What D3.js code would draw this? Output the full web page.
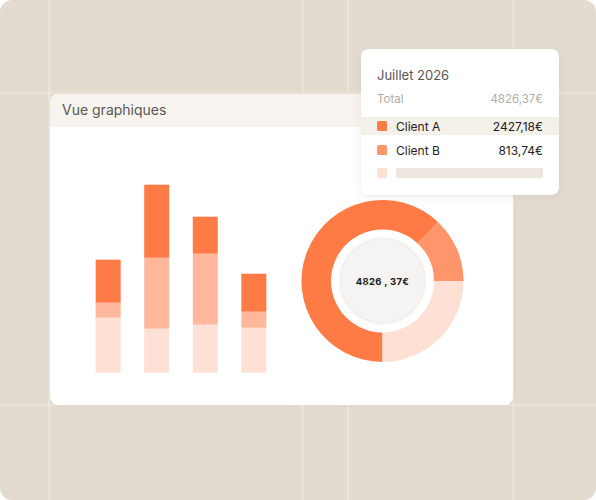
<!DOCTYPE html>
<html>
<head>
<meta charset="utf-8">
<script src="https://cdn.jsdelivr.net/npm/d3@7"></script>
<style>
  body { margin: 0; background: #fff; }
  svg { display: block; font-family: Inter, "Noto Sans", sans-serif; }
</style>
</head>
<body>
<div id="chart"></div>
<script>
// bar chart: 4 stacked bars, three layers each (bottom -> top)
var barIds = ["b1", "b2", "b3", "b4"];
var layerLight = [55, 44, 48, 45];
var layerMid = [15, 71, 71, 16];
var layerDark = [43, 73, 37, 38];

// donut shares (dark, medium, light), drawn clockwise from 6 o'clock
var donutShares = [62, 13, 25];

// tooltip texts
var tipTitle = "Juillet 2026";
var tipTotal = "4826,37€";
var tipClients = ["Client A", "Client B"];
var tipAmounts = ["2427,18€", "813,74€"];
var centerLabel = "4826 , 37€";

var width = 596, height = 500;
var colors = { dark: "#ff7b45", mid: "#ffb89b", light: "#ffe0d5", donutMid: "#ff966b" };

var svg = d3.select("#chart").append("svg")
  .attr("width", width)
  .attr("height", height);

var defs = svg.append("defs");
var shadow = defs.append("filter").attr("id", "shadow")
  .attr("x", "-20%").attr("y", "-20%").attr("width", "140%").attr("height", "150%");
shadow.append("feDropShadow")
  .attr("dx", 0).attr("dy", 2).attr("stdDeviation", 4)
  .attr("flood-color", "#8a7a66").attr("flood-opacity", 0.14);

var soft = defs.append("filter").attr("id", "soft")
  .attr("x", "-20%").attr("y", "-20%").attr("width", "140%").attr("height", "140%");
soft.append("feDropShadow")
  .attr("dx", 0).attr("dy", 0).attr("stdDeviation", 1.5)
  .attr("flood-color", "#000").attr("flood-opacity", 0.08);

var blur = defs.append("filter").attr("id", "blur");
blur.append("feGaussianBlur").attr("stdDeviation", 1.2);

// background
svg.append("rect")
  .attr("width", width).attr("height", height)
  .attr("rx", 12)
  .attr("fill", "#e3dbd0");

// background grid
[49, 303, 348, 513].forEach(function(x){
  svg.append("line").attr("x1", x).attr("x2", x).attr("y1", 0).attr("y2", height)
    .attr("stroke", "#f2ede6").attr("stroke-width", 1);
});
[93, 405].forEach(function(y){
  svg.append("line").attr("x1", 0).attr("x2", width).attr("y1", y).attr("y2", y)
    .attr("stroke", "#f2ede6").attr("stroke-width", 1);
});

// main panel
var panel = { x: 50, y: 94, w: 463, h: 311 };
svg.append("rect")
  .attr("x", panel.x).attr("y", panel.y)
  .attr("width", panel.w).attr("height", panel.h)
  .attr("rx", 8)
  .attr("fill", "#fff")
  .attr("filter", "url(#soft)");

svg.append("path")
  .attr("d", "M" + panel.x + "," + (panel.y + 33) +
    "V" + (panel.y + 8) +
    "Q" + panel.x + "," + panel.y + " " + (panel.x + 8) + "," + panel.y +
    "H" + (panel.x + panel.w - 8) +
    "Q" + (panel.x + panel.w) + "," + panel.y + " " + (panel.x + panel.w) + "," + (panel.y + 8) +
    "V" + (panel.y + 33) + "Z")
  .attr("fill", "#f7f4ef");

svg.append("text")
  .attr("x", 62).attr("y", 115)
  .attr("font-size", 14)
  .attr("fill", "#5a5652")
  .text("Vue graphiques");

// stacked bars
var barData = barIds.map(function(id, i){
  return { id: id, light: layerLight[i], mid: layerMid[i], dark: layerDark[i] };
});
var keys = ["light", "mid", "dark"];
var stack = d3.stack().keys(keys)(barData);

var x = d3.scaleBand()
  .domain(barIds)
  .range([84, 278])
  .paddingInner(0.485)
  .paddingOuter(0.24);

var y = d3.scaleLinear()
  .domain([0, 200])
  .range([372.7, 172.7]);

svg.append("g").selectAll("g")
  .data(stack)
  .enter().append("g")
  .attr("fill", function(d){ return colors[d.key]; })
  .selectAll("rect")
  .data(function(d){ return d; })
  .enter().append("rect")
  .attr("x", function(d){ return x(d.data.id); })
  .attr("width", x.bandwidth())
  .attr("y", function(d){ return y(d[1]); })
  .attr("height", function(d){ return y(d[0]) - y(d[1]); });

// donut
var cx = 382.5, cy = 281;
var pie = d3.pie().sort(null)
  .startAngle(Math.PI)
  .endAngle(3 * Math.PI);
var arc = d3.arc().innerRadius(51.5).outerRadius(81);
var donutColors = [colors.dark, colors.donutMid, colors.light];

var donut = svg.append("g").attr("transform", "translate(" + cx + "," + cy + ")");
donut.selectAll("path")
  .data(pie(donutShares))
  .enter().append("path")
  .attr("d", arc)
  .attr("fill", function(d, i){ return donutColors[i]; });

donut.append("circle")
  .attr("r", 43)
  .attr("fill", "#ecebe8")
  .attr("filter", "url(#blur)");
donut.append("circle")
  .attr("r", 41.5)
  .attr("fill", "#f5f4f2");

donut.append("text")
  .attr("y", 3.5)
  .attr("text-anchor", "middle")
  .attr("font-size", 9.5)
  .attr("font-weight", 700)
  .attr("letter-spacing", 0.3)
  .attr("fill", "#1a1a1a")
  .text(centerLabel);

// tooltip card
var tip = svg.append("g").attr("transform", "translate(361,49)");
tip.append("rect")
  .attr("width", 198).attr("height", 146)
  .attr("rx", 8)
  .attr("fill", "#fff")
  .attr("filter", "url(#shadow)");

tip.append("text")
  .attr("x", 16).attr("y", 31)
  .attr("font-size", 13)
  .attr("fill", "#5a5652")
  .text(tipTitle);

tip.append("text")
  .attr("x", 16).attr("y", 54)
  .attr("font-size", 11.5)
  .attr("fill", "#b0aca7")
  .text("Total");

tip.append("text")
  .attr("x", 182).attr("y", 54)
  .attr("text-anchor", "end")
  .attr("font-size", 11.5)
  .attr("fill", "#b0aca7")
  .text(tipTotal);

tip.append("rect")
  .attr("x", 0).attr("y", 68)
  .attr("width", 198).attr("height", 18)
  .attr("fill", "#f4f0ea");

var rowColors = [colors.dark, colors.donutMid, colors.light];
var rows = tip.selectAll("g.row")
  .data(tipClients)
  .enter().append("g")
  .attr("class", "row")
  .attr("transform", function(d, i){ return "translate(0," + (77 + i * 24) + ")"; });

rows.append("rect")
  .attr("x", 16).attr("y", -5)
  .attr("width", 10).attr("height", 10)
  .attr("rx", 1.5)
  .attr("fill", function(d, i){ return rowColors[i]; });

rows.append("text")
  .attr("x", 35).attr("y", 4.5)
  .attr("font-size", 12)
  .attr("fill", "#222")
  .text(function(d){ return d; });

rows.append("text")
  .attr("x", 182).attr("y", 4.5)
  .attr("text-anchor", "end")
  .attr("font-size", 12)
  .attr("fill", "#222")
  .text(function(d, i){ return tipAmounts[i]; });

// placeholder row
tip.append("rect")
  .attr("x", 16).attr("y", 119)
  .attr("width", 10).attr("height", 10)
  .attr("rx", 1.5)
  .attr("fill", colors.light);
tip.append("rect")
  .attr("x", 35).attr("y", 119)
  .attr("width", 147).attr("height", 10)
  .attr("fill", "#ede7df");
</script>
</body>
</html>
